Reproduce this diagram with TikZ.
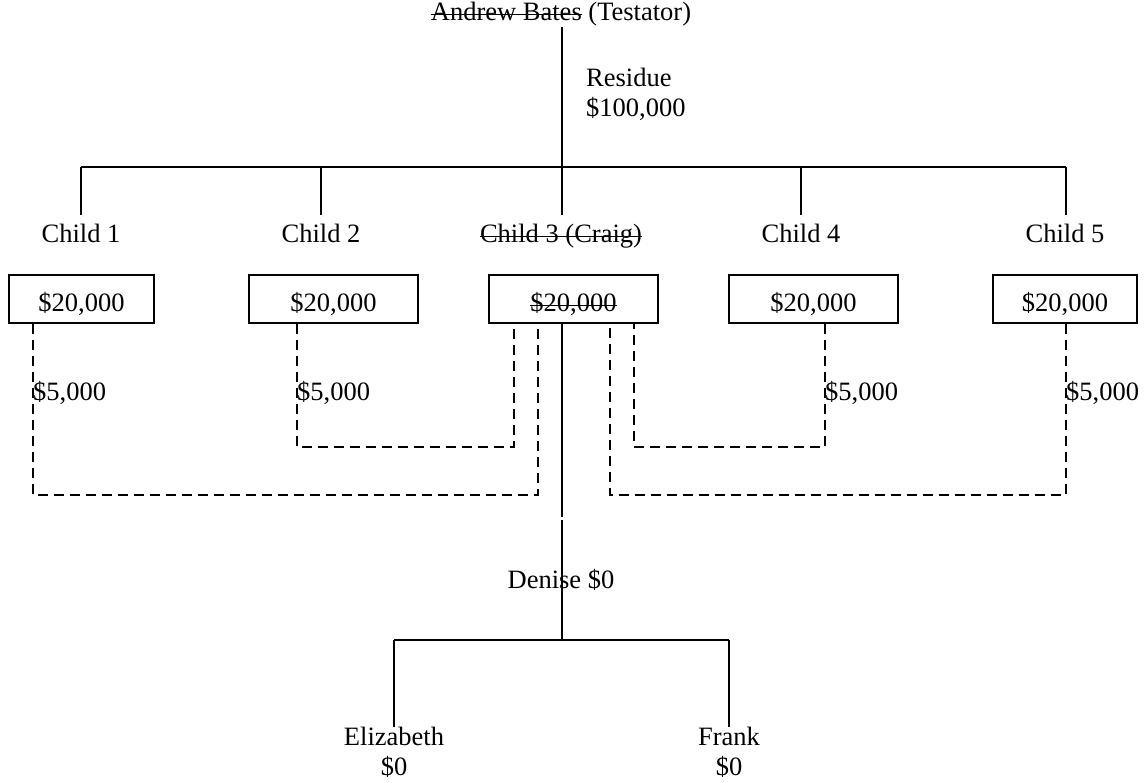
\documentclass[tikz,border=0pt]{standalone}
\usepackage{fontspec}
\setmainfont{Liberation Serif}
\newsavebox{\mystrikebox}
\newcommand{\mystrike}[1]{\sbox{\mystrikebox}{#1}\rlap{\rule[5.8pt]{\wd\mystrikebox}{1.6pt}}\usebox{\mystrikebox}}
\begin{document}
\begin{tikzpicture}[x=1pt,y=-1pt,
  every node/.style={font=\fontsize{26.5}{30}\selectfont, inner sep=0pt},
  ln/.style={line width=1.8pt},
  dl/.style={line width=1.8pt, dash pattern=on 10pt off 6pt},
  box/.style={draw, line width=1.8pt, minimum height=48pt, text height=30pt, text depth=4pt},
  childlbl/.style={anchor=base, text height=18pt, inner ysep=10pt},
  amt/.style={anchor=base west}]
\useasboundingbox (0,0) rectangle (1147,783);

% top
\node[anchor=base, text depth=6pt] (top) at (561,21) {\mystrike{Andrew Bates} (Testator)};
\node[anchor=base west, align=left] (res) at (586,117) {Residue\\\$100,000};

\coordinate (j1) at (81,167);
\coordinate (j2) at (321,167);
\coordinate (j3) at (562,167);
\coordinate (j4) at (801,167);
\coordinate (j5) at (1066,167);

\draw[ln] (top.south -| j3) -- (j3);
\draw[ln] (j1) -- (j5);

% children
\node[childlbl] (c1) at (81,243) {Child 1};
\node[childlbl] (c2) at (321,243) {Child 2};
\node[childlbl] (c3) at (561,243) {\mystrike{Child 3 (Craig)}};
\node[childlbl] (c4) at (801,243) {Child 4};
\node[childlbl] (c5) at (1065,243) {Child 5};

\draw[ln] (j1) -- (j1 |- c1.north);
\draw[ln] (j2) -- (j2 |- c2.north);
\draw[ln] (j3) -- (j3 |- c3.north);
\draw[ln] (j4) -- (j4 |- c4.north);
\draw[ln] (j5) -- (j5 |- c5.north);

% boxes
\node[box, minimum width=145pt] (b1) at (81.5,299) {\$20,000};
\node[box, minimum width=169pt] (b2) at (333.5,299) {\$20,000};
\node[box, minimum width=169pt] (b3) at (573.5,299) {\mystrike{\$20,000}};
\node[box, minimum width=169pt] (b4) at (813.5,299) {\$20,000};
\node[box, minimum width=144pt] (b5) at (1065,299) {\$20,000};

% dashed redistribution
\draw[dl] (b1.south -| 33,0) -- (33,495) -- (538,495) -- (b3.south -| 538,0);
\draw[dl] (b2.south -| 297,0) -- (297,447) -- (514,447) -- (b3.south -| 514,0);
\draw[dl] (b4.south -| 825,0) -- (825,447) -- (634,447) -- (b3.south -| 634,0);
\draw[dl] (b5.south -| 1066,0) -- (1066,495) -- (610,495) -- (b3.south -| 610,0);

\node[amt] (f1) at (33,400) {\$5,000};
\node[amt] (f2) at (297,400) {\$5,000};
\node[amt] (f4) at (825,400) {\$5,000};
\node[amt] (f5) at (1066,400) {\$5,000};

% Denise
\coordinate (g1) at (562,516.5);
\coordinate (g2) at (562,520);
\coordinate (jd) at (562,640);
\coordinate (je) at (394,640);
\coordinate (jf) at (729,640);
\draw[ln] (b3.south -| j3) -- (g1);
\draw[ln] (g2) -- (jd);
\node[anchor=base] (den) at (561,588) {Denise \$0};

\draw[ln] (je) -- (jf);
\node[anchor=north, align=center] (eliz) at (394,727) {Elizabeth\\\$0};
\node[anchor=north, align=center] (frank) at (729,727) {Frank\\\$0};
\draw[ln] (je) -- (eliz.north);
\draw[ln] (jf) -- (frank.north);
\end{tikzpicture}
\end{document}
